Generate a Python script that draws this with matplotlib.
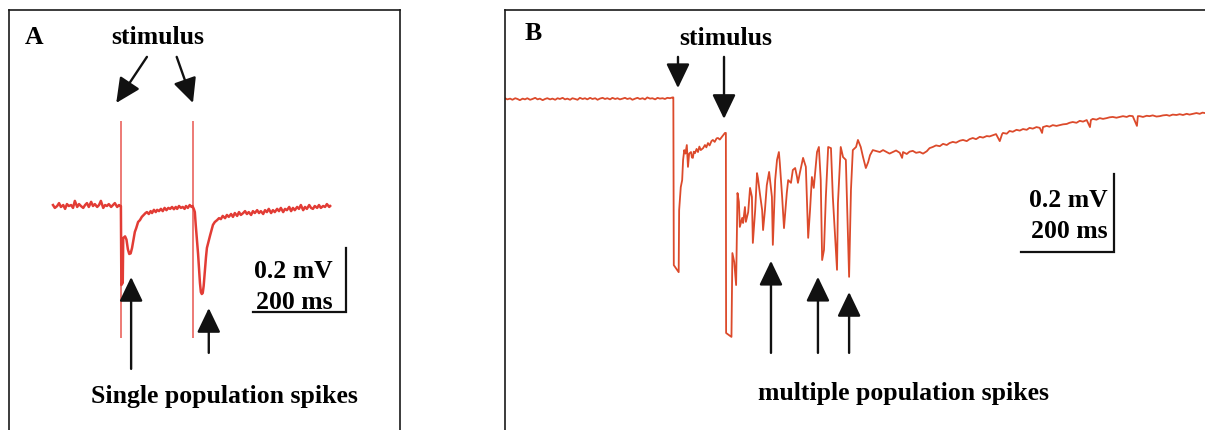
import matplotlib
matplotlib.use("Agg")
import matplotlib.pyplot as plt

plt.rcParams['font.family'] = ['Liberation Serif', 'DejaVu Serif']

# ---------------- data (time in ms, potential in mV) ----------------
# Panel A: paired-pulse response with single population spikes
a_time = [0, 4, 9, 13, 17, 22, 26, 30, 34, 39, 43, 47, 52, 56, 60, 65, 69, 73, 77, 82,
          86, 90, 95, 99, 103, 108, 112, 116, 120, 125, 129, 133, 138, 142, 145,
          146, 147, 150, 151, 155, 158, 161, 164, 167, 170, 173, 176, 179, 183, 187,
          191, 195, 199, 202, 206, 210, 213, 217, 221, 224, 228, 232, 236, 240, 244,
          248, 252, 256, 260, 264, 267, 271, 275, 279, 283, 286, 290, 294, 298, 300,
          303, 305, 307, 310, 312, 314, 316, 318, 320, 322, 324, 327, 329, 331, 335,
          338, 341, 344, 348, 353, 357, 361, 365, 370, 374, 378, 383, 387, 391, 396,
          400, 404, 409, 413, 417, 421, 426, 430, 434, 439, 443, 447, 452, 456, 460,
          464, 469, 473, 477, 482, 486, 490, 495, 499, 503, 508, 512, 516, 520, 525,
          529, 533, 538, 542, 546, 551, 555, 559, 563, 568, 572, 576, 581, 585, 589,
          594, 596]
a_volt = [0.003, -0.006, 0.000, 0.009, -0.003, 0.003, -0.009, 0.006, 0.000, 0.003,
          -0.006, 0.016, -0.003, 0.006, 0.000, -0.006, 0.003, 0.009, -0.003, 0.013,
          0.000, 0.006, -0.003, 0.003, 0.016, -0.006, 0.003, 0.000, 0.006, -0.003,
          0.003, 0.009, -0.003, 0.003, 0.000,
          0.000, -0.247, -0.240, -0.100, -0.095, -0.105, -0.135, -0.150, -0.148, -0.131,
          -0.106, -0.081, -0.069, -0.050, -0.044, -0.034, -0.028, -0.022, -0.019, -0.025,
          -0.016, -0.022, -0.012, -0.019, -0.012, -0.016, -0.009, -0.016, -0.006, -0.013,
          -0.006, -0.009, -0.003, -0.010, -0.003, -0.009, 0.000, -0.006, -0.003, -0.009,
          0.000, -0.006, 0.003, -0.003, 0.000,
          -0.010, -0.019, -0.060, -0.113, -0.150, -0.194, -0.240, -0.269, -0.275, -0.272,
          -0.250, -0.194, -0.160, -0.131, -0.108, -0.091, -0.075, -0.059, -0.050, -0.044,
          -0.038, -0.041, -0.031, -0.038, -0.028, -0.034, -0.025, -0.034, -0.022, -0.031,
          -0.019, -0.028, -0.022, -0.016, -0.025, -0.019, -0.028, -0.016, -0.022, -0.013,
          -0.022, -0.016, -0.025, -0.013, -0.019, -0.009, -0.022, -0.013, -0.019, -0.009,
          -0.016, -0.006, -0.019, -0.009, -0.013, -0.003, -0.016, -0.006, -0.013, -0.003,
          -0.009, 0.003, -0.013, -0.003, -0.009, 0.003, -0.006, -0.009, 0.000, -0.006,
          0.003, -0.006, 0.000, -0.003, 0.006, -0.003, 0.000]
a_stim_times = [146, 301]
a_stim_low, a_stim_high = -0.4125, 0.266
a_spike_times = [168, 335]
a_spike_tips = [-0.222, -0.319]
a_spike_tails = [-0.509, -0.459]

# Panel B: multiple population spikes
b_time = [0, 5, 11, 16, 22, 27, 32, 38, 43, 48, 54, 59, 65, 70, 75, 81, 86, 91, 97, 102,
          108, 113, 118, 124, 129, 134, 140, 145, 151, 156, 161, 167, 172, 177, 183, 188,
          194, 199, 204, 210, 215, 220, 226, 231, 237, 242, 247, 253, 258, 263, 269, 274,
          280, 285, 290, 296, 301, 306, 312, 317, 323, 328, 333, 339, 344, 349, 355, 360,
          362,
          363, 373.5, 374.5, 378, 381, 383, 385.5, 388, 391, 393.5, 396, 400, 402, 404,
          406, 408.5, 412, 415, 418, 421, 426, 430, 433, 436.5, 440, 444, 447, 451, 455,
          458, 462, 466.6, 470, 473, 475,
          475.5, 487, 489, 493, 497,
          500, 503, 505, 510, 512, 516, 518, 523, 527, 531, 533, 538, 542, 544, 548, 553,
          555, 559, 563, 568, 574, 576, 581, 585, 589, 591, 596, 600, 606, 609, 615, 619,
          624, 628, 630, 634, 641, 647, 652, 656, 660, 664, 671, 675, 679, 682, 686, 690,
          695, 701, 705, 714, 716, 722, 727, 733, 740, 744, 748, 755, 759, 765, 770, 776,
          781, 785, 791,
          806, 813, 821, 827, 834, 841, 849, 854, 856, 864, 870, 877, 884, 892, 899, 907,
          913, 920, 927, 935, 942, 950, 956, 963, 970, 978, 985, 993, 999, 1006, 1013,
          1021, 1028, 1036, 1042, 1049, 1056, 1064, 1069, 1071, 1079, 1085, 1092, 1100,
          1107, 1114, 1122, 1128, 1135, 1143, 1150, 1155, 1157, 1165, 1171, 1178, 1186,
          1193, 1200, 1208, 1214, 1221, 1229, 1236, 1243, 1251, 1258, 1260, 1264, 1272,
          1279, 1286, 1294, 1300, 1307, 1315, 1322, 1329, 1337, 1343, 1350, 1359, 1361,
          1365, 1372, 1380, 1386, 1393, 1401, 1408, 1415, 1423, 1429, 1436, 1444, 1451,
          1458, 1466, 1472, 1479, 1487, 1494, 1500, 1505]
b_volt = [0.002, -0.001, 0.001, -0.002, 0.002, 0.000, -0.003, 0.001, -0.001, 0.002,
          -0.002, 0.000, 0.003, -0.001, 0.001, -0.003, 0.000, 0.002, -0.001, 0.001,
          -0.002, 0.002, 0.000, 0.003, -0.001, 0.001, -0.002, 0.002, 0.000, -0.002,
          0.003, 0.000, 0.002, -0.001, 0.003, 0.000, 0.002, -0.002, 0.001, 0.003,
          0.000, 0.002, -0.001, 0.003, 0.000, 0.002, -0.001, 0.001, 0.003, 0.000,
          0.002, -0.002, 0.001, 0.003, 0.000, 0.002, -0.001, 0.004, 0.001, 0.002,
          -0.001, 0.003, 0.001, 0.002, 0.000, 0.003, 0.002, 0.004, 0.004,
          -0.426, -0.444, -0.285, -0.226, -0.208, -0.156, -0.131, -0.140, -0.118, -0.174,
          -0.140, -0.136, -0.150, -0.151, -0.135, -0.139, -0.128, -0.136, -0.122, -0.131,
          -0.126, -0.118, -0.124, -0.113, -0.119, -0.108, -0.105, -0.110, -0.101, -0.100,
          -0.104, -0.097, -0.092, -0.087, -0.087,
          -0.600, -0.610, -0.395, -0.418, -0.477,
          -0.241, -0.264, -0.328, -0.305, -0.318, -0.277, -0.315, -0.290, -0.228, -0.251,
          -0.369, -0.285, -0.190, -0.203, -0.241, -0.285, -0.336, -0.285, -0.221, -0.187,
          -0.251, -0.374, -0.208, -0.156, -0.136, -0.164, -0.251, -0.331, -0.241, -0.208,
          -0.215, -0.182, -0.177, -0.200, -0.215, -0.190, -0.151, -0.174, -0.356, -0.285,
          -0.200, -0.228, -0.136, -0.123, -0.208, -0.413, -0.387, -0.251, -0.123, -0.126,
          -0.251, -0.438, -0.267, -0.123, -0.149, -0.156, -0.456, -0.233, -0.131, -0.123,
          -0.105, -0.123, -0.149, -0.177, -0.162, -0.144, -0.131,
          -0.136, -0.131, -0.136, -0.140, -0.136, -0.132, -0.138, -0.151, -0.136, -0.141,
          -0.135, -0.133, -0.138, -0.136, -0.140, -0.134, -0.126, -0.123, -0.119, -0.121,
          -0.115, -0.118, -0.113, -0.110, -0.112, -0.107, -0.105, -0.108, -0.103, -0.100,
          -0.103, -0.097, -0.099, -0.095, -0.096, -0.093, -0.090, -0.108, -0.090, -0.087,
          -0.089, -0.082, -0.084, -0.079, -0.081, -0.077, -0.079, -0.074, -0.076, -0.072,
          -0.074, -0.087, -0.072, -0.069, -0.071, -0.067, -0.069, -0.067, -0.065, -0.064,
          -0.061, -0.059, -0.061, -0.056, -0.058, -0.054, -0.072, -0.054, -0.051, -0.053,
          -0.049, -0.051, -0.049, -0.047, -0.046, -0.048, -0.046, -0.044, -0.046, -0.043,
          -0.044, -0.069, -0.044, -0.044, -0.046, -0.043, -0.044, -0.042, -0.045, -0.044,
          -0.042, -0.041, -0.043, -0.040, -0.041, -0.039, -0.041, -0.038, -0.040, -0.038,
          -0.036, -0.038, -0.035, -0.036]
b_stim_times = [372, 471]
b_stim_tips = [0.028, -0.051]
b_stim_tail = 0.108
b_spike_times = [572, 673, 740]
b_spike_tips = [-0.415, -0.456, -0.495]
b_spike_tail = -0.651

scale_ms = 200
scale_mv = 0.2
panel_labels = ['A', 'B']
stim_label = 'stimulus'
a_caption = 'Single population spikes'
b_caption = 'multiple population spikes'
scale_mv_text = '0.2 mV'
scale_ms_text = '200 ms'

# ---------------- figure ----------------
W, H = 1205, 430
fig = plt.figure(figsize=(W / 100, H / 100), dpi=100)

a_color = '#e23c35'
a_stim_color = '#e8564f'
b_color = '#dc4a2b'
font = dict(fontsize=18.5, fontweight='bold', color='black')


def make_axes(left, right, top, bottom, x0, y0, ms_per_px, mv_per_px):
    ax = fig.add_axes([left / W, 1 - bottom / H, (right - left) / W, (bottom - top) / H])
    ax.set_xlim((left - x0) * ms_per_px, (right - x0) * ms_per_px)
    ax.set_ylim((y0 - bottom) * mv_per_px, (y0 - top) * mv_per_px)
    ax.set_xticks([])
    ax.set_yticks([])
    ax.spines['bottom'].set_visible(False)
    for s in ('left', 'top', 'right'):
        ax.spines[s].set_linewidth(1.2)
        ax.spines[s].set_color('#1a1a1a')
    ax.patch.set_alpha(0)
    return ax


def arrow(ax, tail, tip, hl=1.5, hw=0.72):
    ax.annotate('', xy=tip, xytext=tail,
                arrowprops=dict(arrowstyle=f'-|>,head_length={hl},head_width={hw}',
                                lw=1.7, color='#111111', mutation_scale=10,
                                shrinkA=0, shrinkB=0))


# ---- Panel A ----
axA = make_axes(9, 400, 10, 440, 53, 206, 200 / 93, 0.2 / 64)
axA.vlines(a_stim_times, a_stim_low, a_stim_high, color=a_stim_color, lw=1.1)
axA.plot(a_time, a_volt, color=a_color, lw=1.8)
axA.text(-41, 0.528, panel_labels[0], ha='center', va='center', **font)
axA.text(226, 0.528, stim_label, ha='center', va='center', **font)
arrow(axA, (202, 0.466), (a_stim_times[0] - 10, 0.322))
arrow(axA, (266, 0.466), (a_stim_times[1], 0.322))
for t, tip, tail in zip(a_spike_times, a_spike_tips, a_spike_tails):
    arrow(axA, (t, tail), (t, tip))
axA.text(368, -0.594, a_caption, ha='center', va='center', **font)
# scale bar A
sx, sy = 630, -0.33125
axA.plot([sx - scale_ms, sx, sx], [sy, sy, sy + scale_mv], color='#111111', lw=1.6,
         solid_joinstyle='miter')
axA.text(sx - 28, -0.206, scale_mv_text, ha='right', va='center', **font)
axA.text(sx - 28, -0.303, scale_ms_text, ha='right', va='center', **font)

# ---- Panel B ----
axB = make_axes(505, 1220, 10, 440, 505, 99, 200 / 93, 0.2 / 78)
axB.plot(b_time, b_volt, color=b_color, lw=1.3)
axB.text(60, 0.167, panel_labels[1], ha='center', va='center', **font)
axB.text(475, 0.156, stim_label, ha='center', va='center', **font)
for t, tip in zip(b_stim_times, b_stim_tips):
    arrow(axB, (t, b_stim_tail), (t, tip))
for t, tip in zip(b_spike_times, b_spike_tips):
    arrow(axB, (t, b_spike_tail), (t, tip))
axB.text(856, -0.754, b_caption, ha='center', va='center', **font)
# scale bar B
sx, sy = 1309, -0.392
axB.plot([sx - scale_ms, sx, sx], [sy, sy, sy + scale_mv], color='#111111', lw=1.6,
         solid_joinstyle='miter')
axB.text(sx - 12, -0.259, scale_mv_text, ha='right', va='center', **font)
axB.text(sx - 12, -0.341, scale_ms_text, ha='right', va='center', **font)

fig.savefig('out.png', dpi=100)
